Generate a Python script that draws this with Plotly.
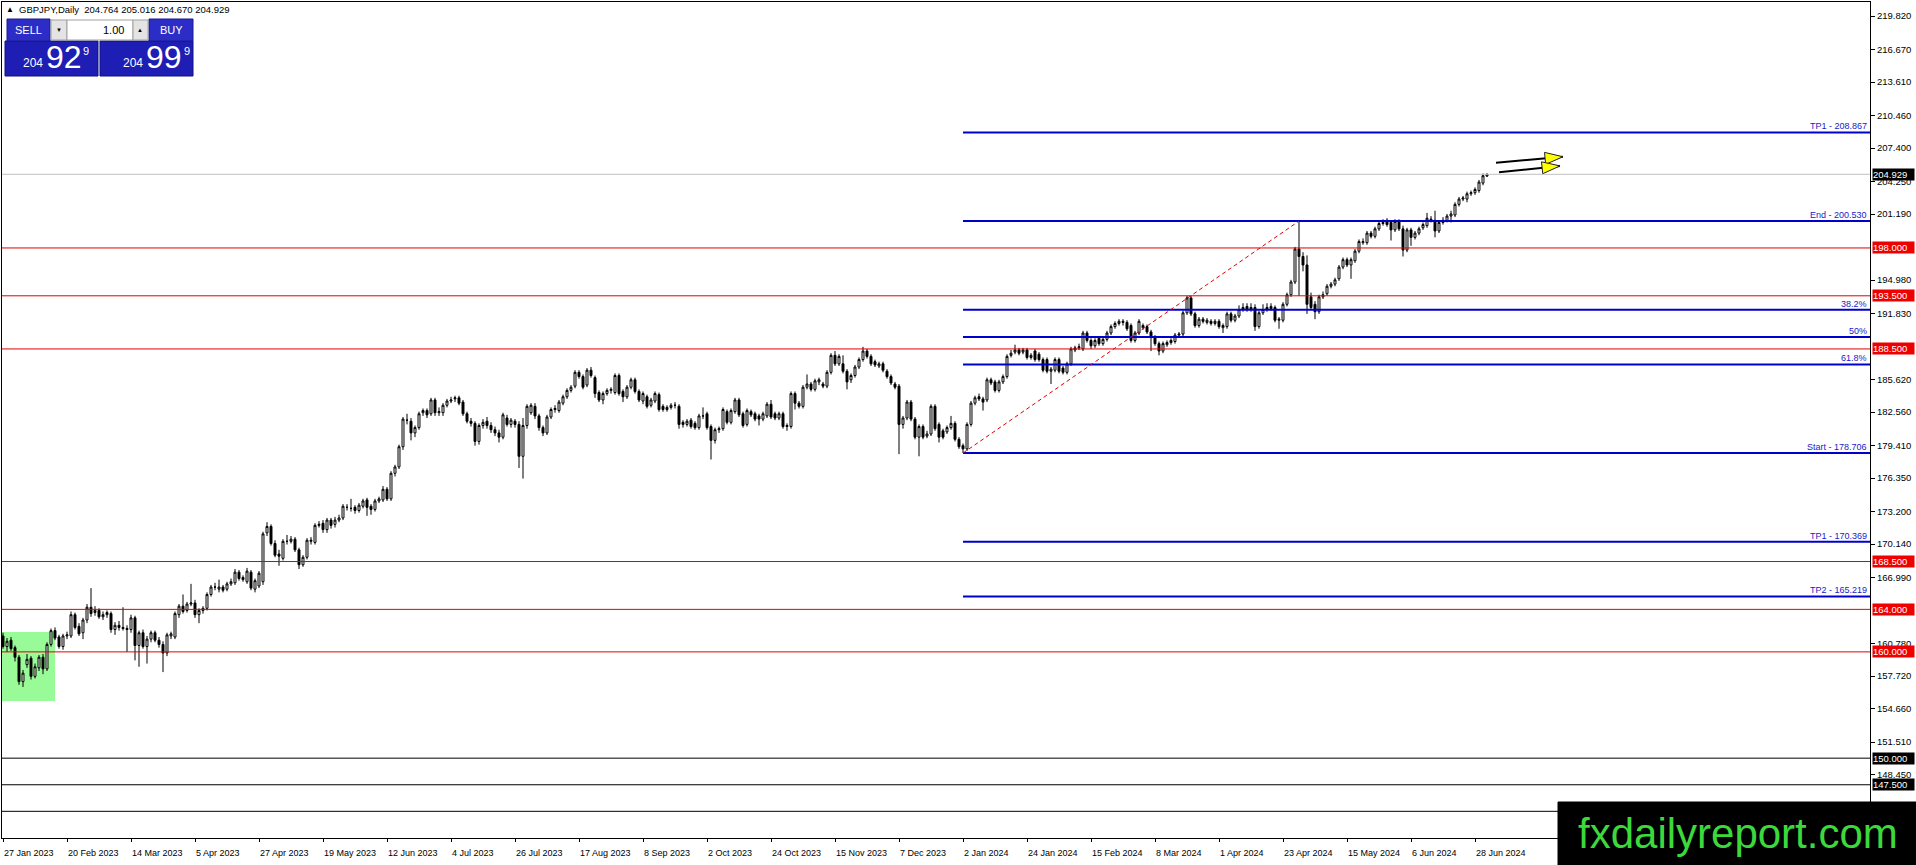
import plotly.graph_objects as go

# ---- chart data (GBPJPY daily) ----
opens = [
    161.5, 160.5, 161.1, 160.4, 159.5, 157.2, 158.8, 159.4, 157.7, 158.5,
    159.5, 158.4, 160.7, 162.0, 161.4, 160.5, 161.5, 161.5, 163.5, 162.4,
    161.8, 163.0, 164.2, 163.7, 163.9, 163.3, 163.5, 163.6, 162.1, 162.5,
    162.3, 162.2, 162.1, 163.2, 160.6, 161.8, 160.5, 161.2, 161.8, 161.1,
    160.7, 159.9, 161.5, 161.4, 163.5, 164.3, 163.9, 164.5, 164.6, 163.5,
    163.9, 164.1, 165.4, 166.1, 165.9, 166.1, 165.9, 166.4, 166.5, 167.5,
    167.0, 166.6, 167.5, 165.9, 166.2, 166.6, 171.2, 171.8, 170.2, 169.2,
    168.8, 170.4, 170.4, 170.6, 169.6, 168.2, 168.9, 170.4, 170.3, 171.9,
    172.1, 171.5, 172.4, 172.0, 172.4, 172.6, 173.6, 173.5, 173.6, 173.3,
    173.7, 174.3, 173.7, 173.4, 174.2, 174.3, 175.3, 174.4, 176.8, 177.4,
    179.3, 181.8, 181.7, 180.6, 181.1, 182.5, 182.7, 182.4, 183.7, 182.5,
    182.5, 183.2, 183.6, 183.8, 183.9, 183.5, 182.4, 181.7, 181.5, 179.8,
    181.3, 181.7, 181.3, 180.9, 180.6, 180.2, 182.0, 181.4, 181.7, 181.4,
    178.4, 181.3, 182.5, 183.1, 182.2, 181.1, 180.6, 182.1, 182.8, 182.7,
    183.4, 184.0, 184.6, 185.0, 186.3, 185.9, 185.1, 186.5, 185.8, 184.4,
    183.7, 184.3, 184.6, 184.4, 186.0, 184.5, 184.0, 184.9, 185.6, 184.5,
    183.6, 184.0, 183.2, 183.6, 184.2, 183.1, 182.8, 183.0, 183.2, 183.1,
    181.6, 181.4, 181.8, 181.5, 181.1, 182.2, 182.4, 181.2, 179.9, 180.9,
    181.0, 182.6, 181.6, 182.6, 183.7, 182.4, 181.4, 182.6, 182.4, 182.2,
    181.9, 182.2, 183.3, 182.4, 182.0, 182.4, 181.2, 181.2, 184.3, 183.4,
    183.1, 184.9, 185.2, 184.7, 185.4, 185.2, 185.0, 186.3, 187.9, 187.1,
    187.1, 186.4, 185.6, 186.0, 186.8, 187.5, 188.3, 187.8, 187.3, 186.9,
    187.1, 186.4, 185.9, 185.2, 185.0, 181.4, 182.0, 183.5, 181.9, 180.2,
    181.2, 180.3, 180.5, 183.1, 181.4, 180.8, 180.7, 181.1, 181.5, 180.0,
    179.4, 179.1, 181.4, 183.4, 184.0, 183.8, 183.7, 185.6, 185.4, 184.6,
    185.4, 185.9, 187.9, 188.2, 188.4, 188.2, 188.4, 187.7, 188.3, 188.0,
    187.5, 187.5, 186.4, 186.5, 187.5, 186.7, 186.3, 187.1, 188.4, 188.6,
    188.5, 190.0, 189.3, 188.8, 189.5, 189.0, 189.4, 190.0, 190.6, 190.9,
    191.1, 191.0, 190.7, 189.3, 190.0, 190.5, 190.6, 190.1, 189.6, 189.0,
    188.3, 188.9, 189.1, 189.2, 189.8, 189.9, 191.9, 193.3, 191.8, 190.7,
    191.3, 191.0, 191.1, 190.9, 191.1, 190.5, 190.6, 191.8, 191.2, 191.6,
    192.2, 192.5, 192.2, 192.4, 190.6, 191.9, 192.2, 192.5, 192.4, 191.2,
    191.2, 192.7, 193.6, 194.8, 197.9, 197.2, 196.4, 193.4, 192.7, 192.0,
    193.4, 193.7, 194.4, 194.6, 195.1, 196.2, 196.9, 196.4, 196.8, 197.7,
    198.5, 198.5, 199.4, 199.1, 199.8, 200.3, 200.6, 200.4, 199.7, 200.5,
    199.8, 197.8, 199.7, 199.0, 199.4, 199.9, 200.1, 200.6, 200.6, 199.6,
    200.4, 200.6, 201.0, 201.1, 202.1, 202.6, 202.6, 203.1, 203.2, 203.4,
    204.1, 204.764,
]
highs = [
    161.8, 161.3, 161.4, 160.6, 159.7, 158.3, 159.8, 159.6, 158.9, 159.7,
    159.8, 160.9, 162.2, 162.3, 161.6, 161.7, 161.9, 163.8, 163.7, 162.7,
    163.2, 164.5, 166.0, 164.3, 164.1, 163.8, 163.9, 163.8, 162.8, 162.9,
    164.2, 162.5, 163.5, 163.4, 162.0, 162.1, 161.5, 162.0, 162.0, 161.4,
    161.0, 161.8, 161.9, 163.8, 164.5, 165.4, 164.7, 166.4, 164.9, 164.1,
    164.3, 165.6, 166.3, 166.5, 166.8, 166.3, 166.6, 166.9, 167.8, 167.7,
    167.2, 167.9, 167.7, 166.9, 167.6, 171.3, 172.2, 172.0, 170.5, 169.6,
    170.6, 171.0, 170.9, 170.8, 169.8, 169.1, 170.7, 170.8, 172.1, 172.3,
    172.4, 172.6, 172.6, 172.7, 172.9, 173.9, 173.9, 174.4, 173.8, 174.0,
    174.4, 174.5, 173.9, 174.4, 174.6, 175.6, 175.5, 177.0, 177.6, 179.5,
    182.1, 182.4, 182.0, 181.3, 182.6, 182.9, 182.9, 183.9, 183.9, 183.0,
    183.4, 183.8, 184.0, 184.1, 184.1, 183.7, 182.6, 182.0, 181.7, 181.5,
    181.9, 182.1, 181.6, 181.2, 180.9, 182.5, 182.3, 182.0, 181.9, 181.7,
    182.0, 183.3, 183.4, 183.4, 182.4, 181.3, 182.3, 183.0, 183.2, 183.7,
    184.2, 184.8, 185.1, 186.5, 186.5, 186.1, 186.7, 186.8, 186.0, 184.6,
    184.5, 184.8, 184.9, 186.2, 186.2, 184.7, 185.1, 185.8, 185.8, 184.7,
    184.5, 184.2, 183.9, 184.5, 184.4, 183.3, 183.2, 183.4, 183.5, 183.3,
    181.8, 181.9, 182.0, 181.7, 182.4, 183.0, 182.6, 181.4, 181.1, 181.2,
    183.0, 182.8, 182.9, 183.9, 183.9, 182.6, 182.9, 182.8, 182.6, 182.4,
    182.6, 183.5, 183.7, 182.6, 182.6, 182.6, 181.5, 184.5, 184.5, 183.6,
    185.1, 186.1, 185.4, 185.7, 185.8, 185.4, 186.5, 188.1, 188.3, 188.0,
    187.9, 186.6, 186.2, 187.0, 187.7, 188.7, 188.5, 188.0, 187.5, 187.3,
    187.3, 186.6, 186.1, 185.4, 185.2, 182.2, 183.7, 183.7, 182.1, 181.4,
    181.4, 180.8, 183.3, 183.3, 181.6, 181.0, 181.3, 182.2, 181.7, 180.2,
    179.6, 181.6, 183.6, 184.1, 184.3, 184.0, 185.8, 185.8, 185.6, 185.6,
    186.1, 188.0, 188.4, 188.9, 188.6, 188.6, 188.6, 188.1, 188.5, 188.2,
    187.7, 187.7, 186.8, 187.7, 187.7, 186.9, 187.3, 188.7, 188.8, 189.0,
    190.2, 190.2, 189.5, 189.5, 189.7, 189.6, 190.2, 190.8, 191.1, 191.3,
    191.3, 191.2, 190.9, 190.2, 191.3, 190.9, 190.8, 190.3, 189.8, 189.2,
    189.2, 189.3, 189.5, 190.0, 190.1, 192.1, 193.5, 193.5, 192.0, 191.5,
    191.5, 191.4, 191.3, 191.3, 191.3, 190.9, 192.0, 192.0, 191.8, 192.6,
    192.8, 192.8, 192.8, 192.7, 192.1, 192.7, 192.8, 192.8, 192.6, 191.5,
    192.9, 193.8, 195.0, 198.1, 200.53, 197.6, 197.3, 193.8, 193.0, 193.6,
    193.9, 194.6, 194.8, 195.2, 196.4, 197.1, 197.1, 197.1, 197.9, 198.8,
    198.9, 199.6, 199.6, 200.0, 200.5, 200.7, 200.8, 200.6, 200.7, 200.7,
    200.1, 199.9, 199.9, 199.6, 200.0, 200.4, 201.3, 201.0, 201.5, 200.6,
    200.9, 201.2, 201.5, 202.3, 202.8, 202.9, 203.3, 203.4, 203.7, 204.4,
    205.0, 205.016,
]
lows = [
    160.3, 160.0, 160.1, 159.1, 156.9, 156.7, 158.5, 157.4, 157.5, 158.2,
    157.9, 158.2, 160.5, 161.1, 160.3, 160.2, 161.2, 161.3, 162.1, 161.5,
    161.2, 162.7, 163.3, 163.4, 163.1, 163.0, 163.2, 161.8, 161.6, 162.0,
    162.0, 160.0, 161.8, 159.2, 158.6, 160.3, 158.9, 160.9, 160.9, 160.4,
    158.1, 159.6, 161.2, 161.2, 163.2, 163.6, 163.7, 164.3, 163.2, 162.7,
    163.6, 163.9, 165.2, 165.8, 165.6, 165.6, 165.7, 166.2, 166.3, 166.7,
    166.6, 166.4, 165.8, 165.6, 166.0, 166.3, 170.9, 170.0, 168.9, 168.1,
    168.6, 170.1, 170.2, 169.4, 167.8, 168.0, 168.7, 170.1, 170.1, 171.7,
    171.2, 171.2, 171.6, 171.7, 172.2, 172.4, 173.3, 173.2, 173.0, 173.1,
    173.5, 172.8, 172.9, 173.2, 174.0, 174.1, 174.2, 174.2, 176.5, 177.2,
    179.0, 181.4, 179.9, 180.2, 180.9, 182.2, 182.0, 182.2, 182.2, 182.2,
    182.2, 183.0, 183.4, 183.5, 183.2, 182.2, 181.5, 181.2, 179.4, 179.5,
    181.0, 181.0, 180.6, 180.3, 179.7, 180.0, 181.2, 181.1, 181.1, 177.3,
    176.3, 181.0, 182.3, 181.9, 180.8, 180.3, 180.4, 181.9, 182.5, 182.5,
    183.2, 183.8, 184.4, 184.8, 185.7, 184.7, 184.9, 185.8, 183.9, 183.5,
    183.3, 184.1, 184.3, 184.2, 184.1, 183.5, 183.8, 184.7, 184.3, 183.5,
    183.3, 182.9, 183.0, 183.4, 182.6, 182.6, 182.6, 182.8, 182.9, 181.0,
    181.1, 181.2, 181.0, 180.9, 180.9, 181.9, 180.9, 178.1, 179.6, 180.6,
    180.8, 181.4, 181.4, 182.4, 182.1, 181.1, 181.2, 182.1, 181.7, 181.3,
    181.7, 182.0, 181.9, 181.8, 181.8, 181.0, 180.8, 181.0, 182.8, 182.9,
    182.9, 184.7, 184.5, 184.5, 185.1, 184.8, 184.8, 186.1, 186.9, 186.9,
    186.2, 184.7, 185.3, 185.8, 186.6, 187.3, 187.6, 186.9, 186.8, 186.7,
    186.3, 185.7, 185.1, 184.7, 178.6, 181.0, 181.8, 181.7, 180.0, 178.4,
    180.0, 180.1, 180.3, 180.8, 179.7, 180.0, 180.5, 180.9, 179.8, 179.1,
    178.706, 178.9, 181.2, 183.2, 183.6, 182.7, 183.5, 185.1, 184.4, 184.4,
    185.2, 185.7, 187.7, 188.0, 187.9, 188.0, 187.5, 187.5, 187.3, 187.3,
    186.3, 186.2, 185.2, 186.3, 186.2, 186.1, 186.1, 186.9, 188.2, 188.4,
    188.3, 189.1, 188.5, 188.6, 188.8, 188.8, 189.2, 189.8, 190.4, 190.7,
    190.7, 190.2, 189.1, 189.1, 189.8, 190.3, 189.9, 188.3, 188.8, 187.9,
    188.1, 188.7, 188.9, 189.0, 189.6, 189.7, 191.7, 191.6, 190.5, 190.5,
    190.9, 190.8, 190.7, 190.7, 190.4, 190.0, 190.4, 191.0, 191.0, 191.4,
    192.0, 192.0, 192.0, 190.2, 190.4, 191.7, 192.0, 192.1, 191.0, 190.4,
    191.0, 192.5, 193.4, 194.6, 193.5, 195.8, 191.8, 192.2, 191.3, 191.8,
    193.2, 193.5, 194.2, 194.4, 194.9, 196.0, 196.2, 195.1, 196.6, 197.5,
    198.3, 198.3, 198.9, 198.9, 199.6, 200.1, 200.0, 198.7, 199.5, 199.6,
    197.2, 197.6, 198.2, 198.8, 199.2, 199.7, 199.9, 200.4, 199.0, 199.4,
    200.2, 200.4, 200.4, 200.9, 201.9, 202.4, 202.3, 202.9, 203.0, 203.2,
    203.9, 204.670,
]
closes = [
    160.5, 161.0, 160.3, 159.5, 157.2, 158.0, 159.3, 157.7, 158.6, 159.5,
    158.4, 160.7, 162.0, 161.3, 160.5, 161.5, 161.6, 163.5, 162.3, 161.7,
    163.0, 164.2, 163.6, 163.9, 163.3, 163.5, 163.7, 162.1, 162.5, 162.3,
    162.2, 162.1, 163.2, 160.6, 161.8, 160.5, 161.2, 161.8, 161.1, 160.7,
    159.9, 161.6, 161.7, 163.6, 164.3, 163.8, 164.5, 164.6, 163.5, 163.9,
    164.1, 165.4, 166.1, 166.1, 166.1, 165.8, 166.4, 166.6, 167.5, 166.9,
    166.8, 167.6, 166.0, 166.7, 167.4, 171.1, 171.8, 170.2, 169.1, 169.0,
    170.4, 170.4, 170.6, 169.6, 168.2, 168.9, 170.5, 170.5, 171.9, 172.0,
    171.5, 172.4, 171.9, 172.4, 172.6, 173.7, 173.6, 173.5, 173.3, 173.8,
    174.2, 173.6, 173.4, 174.2, 174.4, 175.3, 174.4, 176.8, 177.4, 179.3,
    181.9, 181.8, 180.6, 181.1, 182.4, 182.7, 182.3, 183.7, 182.5, 182.6,
    183.2, 183.6, 183.7, 183.9, 183.4, 182.4, 181.7, 181.5, 179.8, 181.3,
    181.6, 181.3, 180.9, 180.6, 180.2, 182.3, 181.4, 181.8, 181.4, 178.4,
    181.3, 183.1, 183.2, 182.2, 181.1, 180.6, 182.1, 182.8, 182.9, 183.5,
    184.0, 184.6, 184.9, 186.3, 185.9, 184.9, 186.5, 186.0, 184.3, 183.7,
    184.3, 184.6, 184.7, 186.0, 184.3, 184.0, 184.9, 185.6, 184.5, 183.7,
    184.3, 183.1, 183.7, 184.3, 182.8, 182.8, 183.0, 183.2, 183.2, 181.4,
    181.4, 181.7, 181.2, 181.1, 182.2, 182.2, 181.1, 179.9, 180.9, 181.0,
    182.8, 181.6, 182.7, 183.7, 182.3, 181.3, 182.7, 182.3, 181.9, 181.9,
    182.4, 183.3, 182.1, 182.0, 182.4, 181.2, 181.3, 184.3, 183.4, 183.1,
    184.9, 185.2, 184.7, 185.5, 185.6, 185.0, 186.3, 187.9, 187.1, 187.8,
    186.4, 185.4, 186.0, 186.8, 187.5, 188.3, 187.8, 187.1, 187.0, 187.1,
    186.5, 185.9, 185.3, 184.9, 181.4, 182.0, 183.5, 181.9, 180.2, 181.2,
    180.2, 180.5, 183.1, 181.0, 180.2, 180.2, 181.1, 181.5, 180.0, 179.3,
    179.1, 181.4, 183.4, 183.9, 183.8, 183.5, 185.6, 185.3, 184.6, 185.4,
    185.9, 187.8, 188.1, 188.4, 188.1, 188.4, 187.7, 187.9, 187.5, 187.5,
    186.5, 186.4, 186.6, 187.5, 186.4, 186.3, 187.1, 188.5, 188.6, 188.7,
    190.0, 189.3, 188.8, 189.3, 189.0, 189.4, 190.0, 190.6, 190.9, 191.1,
    191.0, 190.4, 189.3, 190.0, 191.1, 190.7, 190.1, 189.6, 189.0, 188.3,
    189.0, 189.1, 189.3, 189.8, 189.9, 191.9, 193.3, 191.8, 190.7, 191.3,
    191.1, 191.2, 190.9, 191.1, 190.6, 190.7, 191.8, 191.2, 191.6, 192.2,
    192.4, 192.2, 192.4, 190.6, 191.9, 192.2, 192.4, 192.3, 191.2, 191.3,
    192.7, 193.6, 194.8, 197.9, 197.2, 196.4, 192.7, 192.4, 192.0, 193.4,
    193.6, 194.4, 194.6, 195.0, 196.2, 196.9, 196.4, 196.9, 197.7, 198.6,
    198.6, 199.4, 199.1, 199.8, 200.3, 200.4, 200.2, 199.7, 200.5, 199.8,
    197.8, 199.7, 199.0, 199.4, 199.8, 200.2, 200.8, 200.7, 199.6, 200.4,
    200.6, 201.0, 201.2, 202.1, 202.6, 202.7, 203.1, 203.2, 203.5, 204.2,
    204.8, 204.929,
]

date_labels = [
    "27 Jan 2023", "20 Feb 2023", "14 Mar 2023", "5 Apr 2023", "27 Apr 2023",
    "19 May 2023", "12 Jun 2023", "4 Jul 2023", "26 Jul 2023", "17 Aug 2023",
    "8 Sep 2023", "2 Oct 2023", "24 Oct 2023", "15 Nov 2023", "7 Dec 2023",
    "2 Jan 2024", "24 Jan 2024", "15 Feb 2024", "8 Mar 2024", "1 Apr 2024",
    "23 Apr 2024", "15 May 2024", "6 Jun 2024", "28 Jun 2024",
]
label_bars = [0, 16, 32, 48, 64, 80, 96, 112, 128, 144, 160, 176,
              192, 208, 224, 240, 256, 272, 288, 304, 320, 336, 352, 368]

# price scale labels that are not hidden behind the level boxes
price_ticks = [219.82, 216.67, 213.61, 210.46, 207.40, 204.25, 201.19,
               194.98, 191.83, 185.62, 182.56, 179.41, 176.35, 173.20,
               170.14, 166.99, 160.78, 157.72, 154.66, 151.51, 148.45]

red_levels = [198.0, 193.5, 188.5, 168.5, 164.0, 160.0]
black_levels = [150.0, 147.5]
extra_black_lines = [145.0]
bid_price = 204.929

fib_start_bar, fib_start_price = 240, 178.706
fib_end_bar, fib_end_price = 324, 200.530
fib_levels = [208.867, 200.530, 192.194, 189.618, 187.042, 178.706, 170.369, 165.219]
fib_labels = ["TP1 - 208.867", "End - 200.530", "38.2%", "50%", "61.8%",
              "Start - 178.706", "TP1 - 170.369", "TP2 - 165.219"]

zone_bars = [-0.3, 13.0]
zone_prices = [155.38, 161.87]

arrow_x0 = [373.25, 374.0]
arrow_y0 = [206.02, 205.12]
arrow_x1 = [390.0, 389.25]
arrow_y1 = [206.58, 205.72]

# ---- geometry of the screenshot ----
W, H = 1916, 865
L, R, T, B = 2, 1870, 2, 838
X_RANGE = [-0.25, 466.75]
Y_RANGE = [142.49, 221.14]
FONT = "Liberation Sans, Arial, sans-serif"
RED = "#e00000"
FIB = "#0000cd"


def px(x):
    return (x - L) / (R - L)


def py(y):
    return (B - y) / (B - T)


def arrow_head(x0, y0, x1, y1, length=18, half=6):
    sx = (R - L) / (X_RANGE[1] - X_RANGE[0])
    sy = (B - T) / (Y_RANGE[1] - Y_RANGE[0])
    dx, dy = (x1 - x0) * sx, (y1 - y0) * sy
    n = (dx * dx + dy * dy) ** 0.5
    ux, uy = dx / n, dy / n
    bx, by = x1 - ux * length / sx, y1 - uy * length / sy
    nx, ny = -uy, ux
    xs = [x1, bx + nx * half / sx, bx - nx * half / sx, x1]
    ys = [y1, by + ny * half / sy, by - ny * half / sy, y1]
    return xs, ys


bars = list(range(len(closes)))

fig = go.Figure()
fig.add_trace(
    go.Candlestick(
        x=bars, open=opens, high=highs, low=lows, close=closes,
        increasing=dict(fillcolor="white", line=dict(color="black", width=1)),
        decreasing=dict(fillcolor="black", line=dict(color="black", width=1)),
        whiskerwidth=0, hoverinfo="skip",
    )
)

for i in range(len(arrow_x0)):
    fig.add_trace(
        go.Scatter(x=[arrow_x0[i], arrow_x1[i]], y=[arrow_y0[i], arrow_y1[i]],
                   mode="lines", line=dict(color="black", width=2),
                   hoverinfo="skip")
    )
    hx, hy = arrow_head(arrow_x0[i], arrow_y0[i], arrow_x1[i], arrow_y1[i])
    fig.add_trace(
        go.Scatter(x=hx, y=hy, mode="lines", fill="toself", fillcolor="#ffff00",
                   line=dict(color="#202020", width=1), hoverinfo="skip")
    )

shapes = []
annotations = []

# green zone on the left
shapes.append(dict(type="rect", xref="x", yref="y", x0=zone_bars[0], x1=zone_bars[1],
                   y0=zone_prices[0], y1=zone_prices[1], fillcolor="#98fb98",
                   line=dict(width=0), layer="below"))


def price_box(lv, bg):
    annotations.append(dict(xref="paper", yref="y", x=1, y=lv, xanchor="left", xshift=2,
                            text=f"{lv:.3f}", showarrow=False, bgcolor=bg,
                            font=dict(color="white", size=9.5, family=FONT),
                            borderpad=0, width=41, align="left"))


for lv in red_levels:
    shapes.append(dict(type="line", xref="paper", yref="y", x0=0, x1=1, y0=lv, y1=lv,
                       line=dict(color=RED, width=1)))
    price_box(lv, "#ee0000")

for lv in black_levels + extra_black_lines:
    shapes.append(dict(type="line", xref="paper", yref="y", x0=0, x1=1, y0=lv, y1=lv,
                       line=dict(color="black", width=1)))
for lv in black_levels:
    price_box(lv, "black")

shapes.append(dict(type="line", xref="paper", yref="y", x0=0, x1=1, y0=bid_price,
                   y1=bid_price, line=dict(color="#c0c0c0", width=1)))
price_box(bid_price, "black")

# fibonacci levels
for lv, lab in zip(fib_levels, fib_labels):
    shapes.append(dict(type="line", xref="x", yref="y", x0=fib_start_bar, x1=X_RANGE[1],
                       y0=lv, y1=lv, line=dict(color=FIB, width=2)))
    annotations.append(dict(xref="x", yref="y", x=X_RANGE[1], y=lv, xanchor="right",
                            yanchor="bottom", xshift=-1, yshift=-1, text=lab, showarrow=False,
                            font=dict(color="#1a1ac8", size=9, family=FONT)))

shapes.append(dict(type="line", xref="x", yref="y", x0=fib_start_bar, y0=fib_start_price,
                   x1=fib_end_bar, y1=fib_end_price,
                   line=dict(color=RED, width=1, dash="4px,3px")))

# header text
annotations.append(dict(xref="paper", yref="paper", x=px(4), y=py(9), xanchor="left",
                        yanchor="middle", text="\u25b2", showarrow=False,
                        font=dict(size=8, color="black", family=FONT)))
annotations.append(dict(xref="paper", yref="paper", x=px(17), y=py(9), xanchor="left",
                        yanchor="middle",
                        text="GBPJPY,Daily\u00a0\u00a0204.764 205.016 204.670 204.929",
                        showarrow=False, font=dict(size=9.5, color="black", family=FONT)))


# one-click trading panel
def box(x0, y0, x1, y1, fill, line="rgba(0,0,0,0)"):
    shapes.append(dict(type="rect", xref="paper", yref="paper", x0=px(x0), x1=px(x1),
                       y0=py(y1), y1=py(y0), fillcolor=fill, line=dict(color=line, width=1),
                       layer="above"))


def label(x, y, text, size, color="white", anchor="center"):
    annotations.append(dict(xref="paper", yref="paper", x=px(x), y=py(y), xanchor=anchor,
                            yanchor="middle", text=text, showarrow=False,
                            font=dict(size=size, color=color, family=FONT)))


box(5, 41, 98, 76, "#1e1eb4", "#101080")
box(100, 41, 193, 76, "#1e1eb4", "#101080")
box(7, 19, 50, 41, "#2c2cc6", "#1a1a90")
box(149, 19, 193, 41, "#2c2cc6", "#1a1a90")
box(51, 20, 67, 40, "#e4e4e4", "#a0a0a0")
box(67, 20, 133, 40, "white", "#a0a0a0")
box(133, 20, 148, 40, "#e4e4e4", "#a0a0a0")
label(28, 30, "SELL", 11)
label(171, 30, "BUY", 11)
label(126, 30, "1.00", 11, "black", "right")
label(59, 30, "\u25bc", 6, "black")
label(140, 30, "\u25b2", 6, "black")
label(33, 63, "204", 12)
label(64, 57, "92", 32)
label(86, 51, "9", 11)
label(133, 63, "204", 12)
label(164, 57, "99", 32)
label(187, 51, "9", 11)

# site logo in the bottom right corner
box(1558, 802, 1916, 865, "black", "black")
label(1738, 833, "fxdailyreport.com", 42, "#3cd83c")

fig.update_layout(
    width=W, height=H, autosize=False,
    margin=dict(l=L, r=W - R, t=T, b=H - B, pad=0),
    paper_bgcolor="white", plot_bgcolor="white",
    showlegend=False, hovermode=False,
    shapes=shapes, annotations=annotations,
    font=dict(family=FONT, size=10, color="black"),
    xaxis=dict(
        range=X_RANGE, type="linear", rangeslider=dict(visible=False), automargin=False,
        tickvals=label_bars, ticktext=date_labels, ticklabelposition="outside right",
        tickangle=0, ticks="outside", ticklen=3, tickcolor="black", showgrid=False,
        ticklabelstandoff=6,
        zeroline=False, showline=True, mirror=True, linecolor="black", linewidth=1,
        tickfont=dict(size=9, family=FONT, color="black"),
    ),
    yaxis=dict(
        range=Y_RANGE, side="right", tickvals=price_ticks, automargin=False,
        ticktext=[f"{v:.3f}" for v in price_ticks], ticks="outside", ticklen=4,
        tickcolor="black", showgrid=False, zeroline=False, showline=True, mirror=True,
        linecolor="black", linewidth=1, tickfont=dict(size=9.5, family=FONT, color="black"),
    ),
)

# the page body has a default 8px margin; drop it so the figure fills the window
fig.write_html("out.html", config={"displayModeBar": False},
               post_script="document.body.style.margin='0px';")
